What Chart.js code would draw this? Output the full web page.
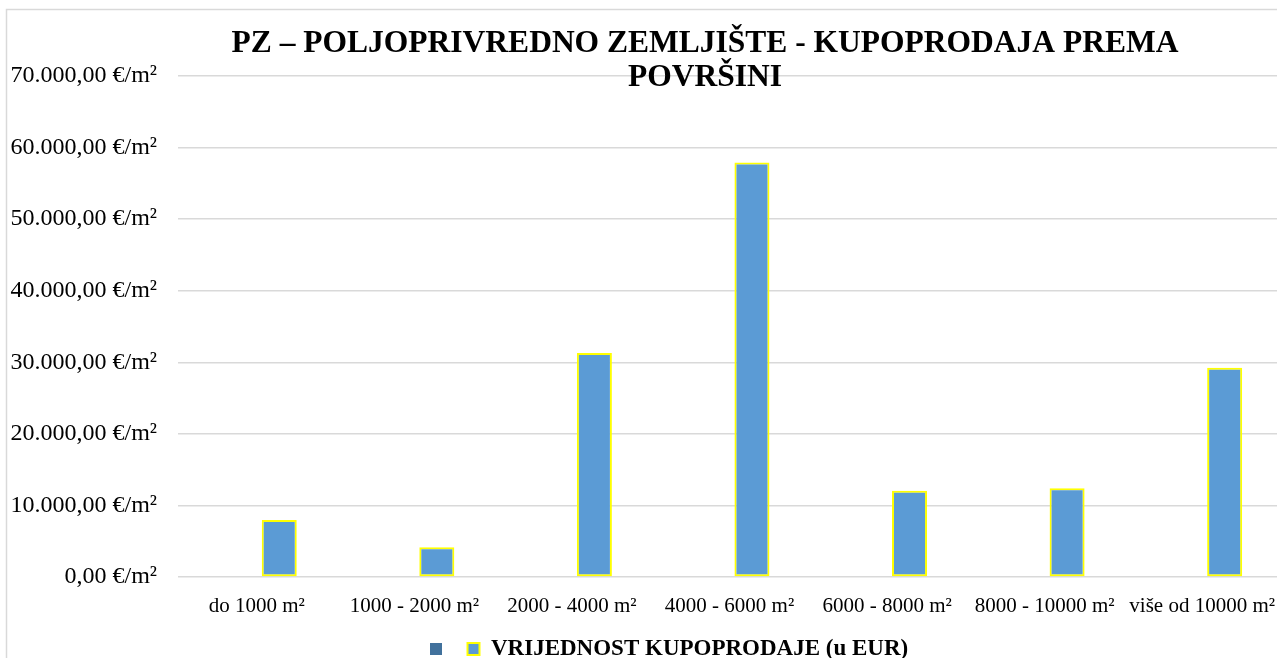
<!DOCTYPE html>
<html>
<head>
<meta charset="utf-8">
<script src="https://cdn.jsdelivr.net/npm/chart.js@4"></script>
<style>
  html, body { margin: 0; padding: 0; background: #fff; overflow: hidden; }
  canvas { display: block; }
</style>
</head>
<body>
<canvas id="pzChart" width="1281" height="658"></canvas>
<script>
// kategorije po površini
const categories = ['do 1000 m²', '1000 - 2000 m²', '2000 - 4000 m²', '4000 - 6000 m²', '6000 - 8000 m²', '8000 - 10000 m²', 'više od 10000 m²'];
// prazna serija (samo u legendi)
const emptySeries = [null, null, null, null, null, null, null];
// vrijednost kupoprodaje
const saleValues = [7950, 4150, 31300, 57900, 12050, 12400, 29250];
const yTicks = [0, 10000, 20000, 30000, 40000, 50000, 60000, 70000];
const titleLines = ['PZ – POLJOPRIVREDNO ZEMLJIŠTE - KUPOPRODAJA PREMA', 'POVRŠINI'];
const legendLabel = 'VRIJEDNOST KUPOPRODAJE (u EUR)';

const serif = '"Liberation Serif", "Times New Roman", serif';

function euroFormat(v) {
    const s = Math.round(v).toString().replace(/\B(?=(\d{3})+(?!\d))/g, '.');
    return s + ',00 €/m²';
}

// okvir grafikona (lijevo i gore)
const framePlugin = {
    id: 'frame',
    beforeDraw(chart) {
        const ctx = chart.ctx;
        ctx.save();
        ctx.strokeStyle = '#d9d9d9';
        ctx.lineWidth = 1.5;
        ctx.beginPath();
        ctx.moveTo(6.5, chart.height);
        ctx.lineTo(6.5, 9.5);
        ctx.lineTo(chart.width, 9.5);
        ctx.stroke();
        ctx.restore();
    }
};

// naslov preko područja grafikona
const titlePlugin = {
    id: 'bigTitle',
    afterDraw(chart) {
        const ctx = chart.ctx;
        ctx.save();
        ctx.font = 'bold 31.5px ' + serif;
        ctx.fillStyle = '#000';
        ctx.textAlign = 'center';
        ctx.textBaseline = 'alphabetic';
        ctx.fillText(titleLines[0], 705, 52);
        ctx.fillText(titleLines[1], 705, 86);
        ctx.restore();
    }
};

// pomak legende na mjesto kao u originalu
const legendShift = {
    id: 'legendShift',
    afterLayout(chart) {
        const lg = chart.legend;
        if (!lg) return;
        const pad = lg.options.labels.padding;
        const fs = lg.options.labels.font.size;
        const dx = 430 - (lg.left + pad);
        const dy = 649 - (lg.top + pad + fs / 2);
        lg.left += dx; lg.right += dx;
        lg.top += dy; lg.bottom += dy;
    }
};

const data = {
    labels: categories,
    datasets: [
        {
            label: '',
            data: emptySeries,
            backgroundColor: '#41719c',
            borderWidth: 0
        },
        {
            label: legendLabel,
            data: saleValues,
            backgroundColor: '#5b9bd5',
            borderColor: '#ffff00',
            borderWidth: 2,
            borderSkipped: false
        }
    ]
};

const config = {
    type: 'bar',
    data: data,
    options: {
        responsive: false,
        animation: false,
        maintainAspectRatio: false,
        // negativni donji razmak da legenda ne skrati os x
        layout: { padding: { top: 76, left: 0, right: 0, bottom: -30 } },
        datasets: {
            bar: { categoryPercentage: 0.57, barPercentage: 0.78 }
        },
        plugins: {
            title: { display: false },
            tooltip: { enabled: false },
            legend: {
                position: 'bottom',
                align: 'start',
                labels: {
                    boxWidth: 12,
                    boxHeight: 12,
                    padding: 14,
                    color: '#000',
                    font: { family: serif, size: 23, weight: 'bold' }
                }
            }
        },
        scales: {
            x: {
                grid: { display: false },
                border: { display: false },
                ticks: {
                    color: '#000',
                    padding: 9,
                    autoSkip: false,
                    maxRotation: 0,
                    font: { family: serif, size: 21 }
                },
                afterFit(scale) {
                    scale.height = 64;
                    scale.paddingLeft = 0;
                    scale.paddingRight = 0;
                }
            },
            y: {
                min: 0,
                max: 70000,
                afterBuildTicks(scale) {
                    scale.ticks = yTicks.map(v => ({ value: v }));
                },
                grid: { color: '#d9d9d9', lineWidth: 1.5, drawTicks: false },
                border: { display: false },
                ticks: {
                    color: '#000',
                    padding: 21,
                    font: { family: serif, size: 24 },
                    callback: (v) => euroFormat(v)
                },
                afterFit(scale) {
                    scale.width = 178;
                }
            }
        }
    },
    plugins: [framePlugin, titlePlugin, legendShift]
};

const ctx = document.getElementById('pzChart').getContext('2d');
const pzChart = new Chart(ctx, config);
</script>
</body>
</html>
